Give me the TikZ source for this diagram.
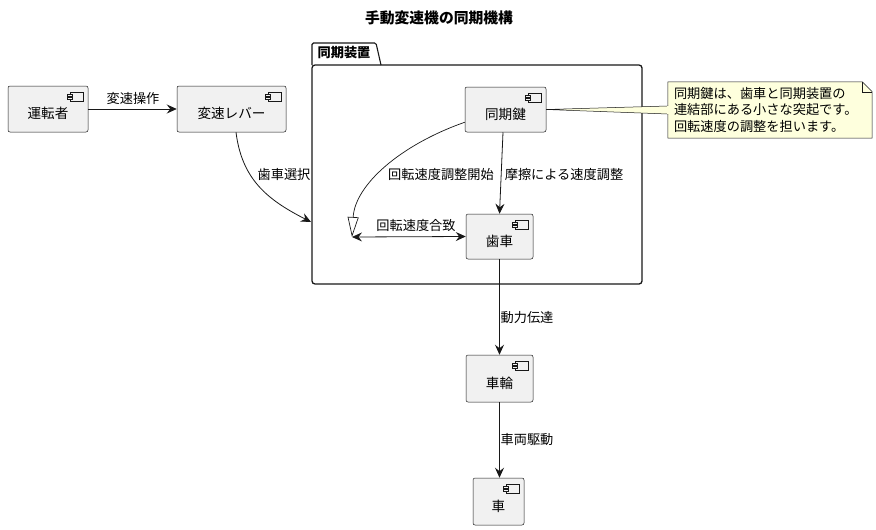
\documentclass[tikz,border=0pt]{standalone}
\usepackage{fontspec}
\setmainfont{Noto Sans CJK JP}
\usetikzlibrary{arrows.meta,positioning}
\definecolor{boxfill}{HTML}{F1F1F1}
\definecolor{boxline}{HTML}{181818}
\definecolor{notefill}{HTML}{FEFFDD}

\begin{document}
\begin{tikzpicture}
[x=1pt,y=-1pt,
 comp/.style={draw=boxline,fill=boxfill,rounded corners=2pt,line width=0.5pt,inner sep=0pt,
   text height=19pt,text depth=0pt,font=\fontsize{13.6}{15}\selectfont},
 lbl/.style={inner sep=1pt,font=\fontsize{13.2}{15}\selectfont},
 flow/.style={-{Stealth[length=10pt,width=9pt,inset=3.5pt]},line width=0.8pt,draw=boxline},
 both/.style={{Stealth[length=10pt,width=9pt,inset=3.5pt]}-{Stealth[length=10pt,width=9pt,inset=3.5pt]},line width=0.8pt,draw=boxline},
 hollow/.style={-{Triangle[open,length=20pt,width=11pt]},line width=0.7pt,draw=boxline}]
\useasboundingbox (0,0) rectangle (876,530);

% title
\node[font=\fontsize{14.8}{16}\selectfont\bfseries] (title) at (439,18) {手動変速機の同期機構};

% package
\node[draw=boxline,line width=1.3pt,rounded corners=3pt,minimum width=330pt,minimum height=219pt] (pkg) at (477,174.5) {};
\draw[boxline,line width=1.1pt,rounded corners=1.5pt] (312,65) -- (312,43) -- (376,43) -- (381,65);
\node[font=\fontsize{13.2}{15}\selectfont\bfseries,inner sep=0pt] (pkgname) at (344,53) {同期装置};

% components
\node[comp,minimum width=80pt,minimum height=46pt] (driver) at (48,109) {運転者};
\node[comp,minimum width=109pt,minimum height=46pt] (lever) at (231.5,109) {変速レバー};
\node[comp,minimum width=81pt,minimum height=45pt] (gate) at (505.5,109.5) {同期鍵};
\node[comp,minimum width=67pt,minimum height=45pt] (gear) at (499.5,236.5) {歯車};
\node[comp,minimum width=67pt,minimum height=47pt] (wheel) at (499.5,378.5) {車輪};
\node[comp,minimum width=51pt,minimum height=47pt] (car) at (498.5,501.5) {車};

\foreach \n in {driver,lever,gate,gear,wheel,car}{
  \begin{scope}[shift={(\n.north east)},boxline,line width=0.5pt]
    \draw[fill=boxfill] (-18,6) rectangle (-5,15);
    \draw[fill=boxfill] (-21,8) rectangle (-16,10);
    \draw[fill=boxfill] (-21,11) rectangle (-16,13);
  \end{scope}
}

% note
\node[lbl,align=left,text width=192pt,inner sep=6pt,minimum height=56pt,
  font=\fontsize{13.2}{16.5}\selectfont] (hint) at (770,110)
  {\phantom{同}};
\draw[boxline,fill=notefill,line width=0.5pt] (hint.north west) -- ([xshift=-10pt]hint.north east)
  -- ([yshift=-10pt]hint.north east) -- (hint.south east) -- (hint.south west) -- cycle;
\draw[boxline,line width=0.5pt] ([xshift=-10pt]hint.north east) -- ([xshift=-10pt,yshift=-10pt]hint.north east)
  -- ([yshift=-10pt]hint.north east);
\draw[boxline,fill=notefill,line width=0.5pt] (gate.east) -- ([yshift=4pt]hint.west) -- ([yshift=-4pt]hint.west) -- cycle;
\fill[notefill] ([xshift=-0.6pt,yshift=3.6pt]hint.west) rectangle ([xshift=1pt,yshift=-3.6pt]hint.west);
\node[lbl,align=left,text width=192pt,inner sep=6pt,minimum height=56pt,
  font=\fontsize{13.2}{16.5}\selectfont] (hinttext) at (hint)
  {同期鍵は、歯車と同期装置の\\連結部にある小さな突起です。\\回転速度の調整を担います。};

% connectors
\coordinate (entry) at (311,222);
\coordinate (merge) at (352,237);

\draw[flow] (driver) -- (lever);
\draw[flow] ([xshift=4.5pt]lever.south) .. controls (242,180) and (268,200) .. (entry);
\draw[hollow] ([yshift=10pt]gate.south west) .. controls (400,145) and (355,185) .. (merge);
\draw[flow] ([xshift=-2.5pt]gate.south) -- (gear.north);
\draw[both] (merge) -- (gear.west);
\draw[flow] (gear) -- (wheel);
\draw[flow] (wheel.south -| gear.south) -- (car.north -| gear.south);

% labels
\node[lbl] (l1) at (133,99) {変速操作};
\node[lbl] (l2) at (284,175) {歯車選択};
\node[lbl] (l3) at (441,175) {回転速度調整開始};
\node[lbl] (l4) at (564,175) {摩擦による速度調整};
\node[lbl] (l5) at (416,225) {回転速度合致};
\node[lbl] (l6) at (527,318) {動力伝達};
\node[lbl] (l7) at (527,440) {車両駆動};
\end{tikzpicture}
\end{document}
